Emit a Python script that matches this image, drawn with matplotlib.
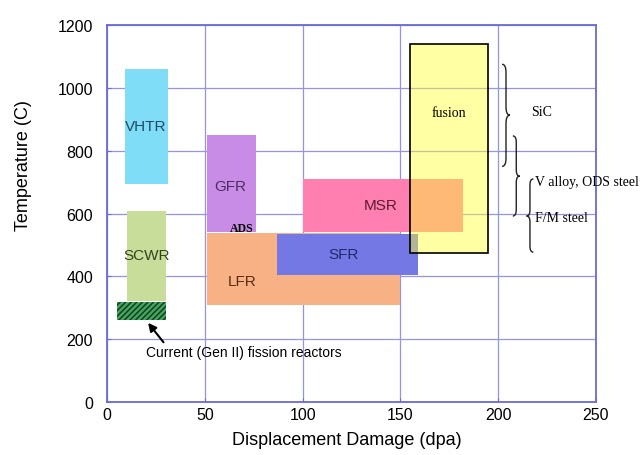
import numpy as np
import matplotlib
matplotlib.use('Agg')
import matplotlib.pyplot as plt
from matplotlib.path import Path
from matplotlib.patches import PathPatch

# ===== 数据 =====
reactors = ['VHTR', 'SCWR', 'GFR', 'LFR', 'SFR', 'MSR']
dpa_lo = [9, 10, 51, 51, 87, 100]
dpa_hi = [31, 30, 76, 150, 159, 182]
temp_lo = [695, 320, 540, 310, 405, 540]
temp_hi = [1060, 608, 850, 538, 535, 710]
label_dpa = [20, 20, 63, 69, 121, 140]
label_temp = [880, 468, 687, 385, 471, 627]

current_dpa = [5, 30]
current_temp = [260, 318]

fusion_dpa = [155, 195]
fusion_temp = [475, 1140]

# 材料适用温度区间
materials = ['SiC', 'V alloy, ODS steel', 'F/M steel']
mat_temp_lo = [750, 592, 477]
mat_temp_hi = [1075, 847, 710]
mat_label_temp = [926, 703, 586]

x_ticks = [0, 50, 100, 150, 200, 250]
y_ticks = [0, 200, 400, 600, 800, 1000, 1200]

# ===== 样式 =====
fill_colors = ['#80DDF8', '#C9DD9A', '#C98CE6', '#F8B184', '#7378E4', '#FF80B0']
text_colors = ['#1E4A66', '#34421E', '#4E2A66', '#5A2E10', '#1E2A6A', '#5A1A30']
blue = '#6A6AD8'

plt.rcParams['font.family'] = ['Liberation Sans', 'DejaVu Sans']

fig = plt.figure(figsize=(6.42, 4.56), dpi=100)
ax = fig.add_axes([0.1667, 0.1162, 0.7616, 0.8268])

for i, name in enumerate(reactors):
    ax.bar(dpa_lo[i], temp_hi[i] - temp_lo[i], width=dpa_hi[i] - dpa_lo[i],
           bottom=temp_lo[i], align='edge', color=fill_colors[i], linewidth=0, zorder=2)
    ax.text(label_dpa[i], label_temp[i], name, ha='center', va='center',
            fontsize=11, color=text_colors[i], zorder=5)

# 现役裂变堆（阴影）
plt.rcParams['hatch.linewidth'] = 1.1
ax.bar(current_dpa[0], current_temp[1] - current_temp[0],
       width=current_dpa[1] - current_dpa[0], bottom=current_temp[0], align='edge',
       color='#45A460', edgecolor='#10401E', hatch='//////', linewidth=0, zorder=2)

# 聚变（半透明黄色）
ax.bar(fusion_dpa[0], fusion_temp[1] - fusion_temp[0],
       width=fusion_dpa[1] - fusion_dpa[0], bottom=fusion_temp[0], align='edge',
       color=(1.0, 1.0, 0.2, 0.45), edgecolor='black', linewidth=1.2, zorder=3)
ax.text(np.mean(fusion_dpa), 923, 'fusion', ha='center', va='center',
        fontsize=10, family='Liberation Serif', zorder=5)

ax.text(69, 554, 'ADS', ha='center', va='center', fontsize=8.5,
        fontweight='bold', family='Liberation Serif', zorder=5)

ax.annotate('Current (Gen II) fission reactors', xy=(21, 252), xytext=(20, 159),
            ha='left', va='center', fontsize=10, zorder=5,
            arrowprops=dict(arrowstyle='-|>', color='black', lw=1.5,
                            shrinkA=0, shrinkB=0, mutation_scale=12,
                            relpos=(0.1, 1.0)))


def brace(x0, w, lo, hi, tip, right=True):
    d = (hi - lo) * 0.08
    s = 1 if right else -1
    xa = x0 if right else x0 + w
    xm = xa + s * w / 2
    xt = xa + s * w
    verts = [(xa, hi), (xm, hi), (xm, hi - d), (xm, hi - d),
             (xm, tip + d), (xm, tip + d), (xm, tip), (xt, tip),
             (xm, tip), (xm, tip - d), (xm, tip - d),
             (xm, lo + d), (xm, lo + d), (xm, lo), (xa, lo)]
    codes = [Path.MOVETO, Path.CURVE3, Path.CURVE3, Path.LINETO,
             Path.LINETO, Path.LINETO, Path.CURVE3, Path.CURVE3,
             Path.CURVE3, Path.CURVE3, Path.LINETO,
             Path.LINETO, Path.LINETO, Path.CURVE3, Path.CURVE3]
    ax.add_patch(PathPatch(Path(verts, codes), fill=False, lw=1.0,
                           edgecolor='#222222', clip_on=False, zorder=4))


brace(202, 4, mat_temp_lo[0], mat_temp_hi[0], 913)
brace(207.5, 3.5, mat_temp_lo[1], mat_temp_hi[1], 719)
brace(214.5, 3.5, mat_temp_lo[2], mat_temp_hi[2], 592, right=False)

mat_x = [217, 219, 219]
for i, m in enumerate(materials):
    ax.text(mat_x[i], mat_label_temp[i], m, ha='left', va='center', fontsize=10,
            family='Liberation Serif', clip_on=False, zorder=5)

ax.set_xlim(0, 250)
ax.set_ylim(0, 1200)
ax.set_xticks(x_ticks)
ax.set_yticks(y_ticks)
ax.tick_params(labelsize=11.5, direction='in', length=3, color=blue)
ax.tick_params(axis='y', pad=10)
ax.grid(True, color='#9494E0', linewidth=0.9, zorder=0)
ax.set_axisbelow(True)
for sp in ax.spines.values():
    sp.set_color(blue)
    sp.set_linewidth(1.3)

ax.set_xlabel('Displacement Damage (dpa)', fontsize=13, va='center')
ax.set_ylabel('Temperature (C)', fontsize=13, va='center')
ax.xaxis.set_label_coords(0.49, -0.10)
ax.yaxis.set_label_coords(-0.17, 0.63)

plt.savefig('out.png', dpi=100)
plt.close()
